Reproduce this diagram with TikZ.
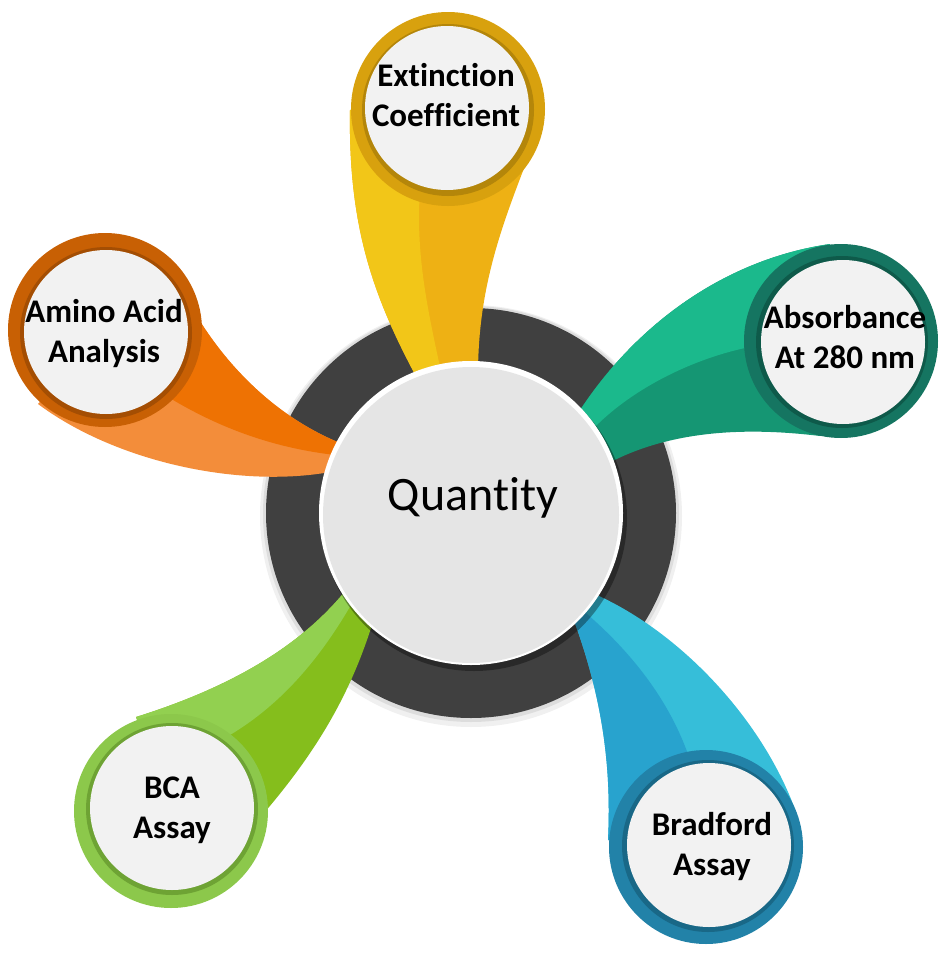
\documentclass[tikz,border=0pt]{standalone}
\usepackage{fontspec}
\setmainfont{Carlito}[RawFeature={-liga;-clig;-calt;-dlig}]
\usepackage{tikz}

\definecolor{darkring}{HTML}{404040}
\definecolor{coregray}{HTML}{E5E5E5}
\definecolor{discgray}{HTML}{F2F2F2}
\definecolor{yelA}{HTML}{F2C618}
\definecolor{yelB}{HTML}{EEB114}
\definecolor{goldring}{HTML}{D8A10E}
\definecolor{goldshade}{HTML}{B4860A}
\definecolor{oraA}{HTML}{EE7203}
\definecolor{oraB}{HTML}{F38D3A}
\definecolor{oraring}{HTML}{C86004}
\definecolor{orashade}{HTML}{A44E03}
\definecolor{tealA}{HTML}{1BB98C}
\definecolor{tealB}{HTML}{159673}
\definecolor{tealring}{HTML}{157561}
\definecolor{tealshade}{HTML}{0E5A4A}
\definecolor{bluA}{HTML}{36BED9}
\definecolor{bluB}{HTML}{28A3CE}
\definecolor{bluring}{HTML}{2282A8}
\definecolor{blushade}{HTML}{196887}
\definecolor{grnA}{HTML}{92D050}
\definecolor{grnB}{HTML}{85BE1C}
\definecolor{grnring}{HTML}{8CC84B}
\definecolor{grnshade}{HTML}{6EA334}

\begin{document}
\begin{tikzpicture}[x=1pt,y=-1pt,
    ring/.style={circle,inner sep=0pt,minimum size=194pt},
    shade/.style={circle,inner sep=0pt,minimum size=172pt},
    disc/.style={circle,fill=discgray,inner sep=0pt,minimum size=164pt},
    lbl/.style={font=\bfseries\fontsize{33}{40}\selectfont,align=center,text=black}]
    \useasboundingbox (0,0) rectangle (949,953);
    % Soft shadow and the dark ring
    \fill[black,opacity=0.06] (471,516) circle (211pt);
    \fill[black,opacity=0.08] (471,514) circle (208pt);
    \fill[darkring] (471,513) circle (205pt);
    % Yellow tail
    \fill[yelB] (350,110) .. controls (348,230) and (375,300) .. (418,380)
        -- (478,375) .. controls (478,290) and (500,230) .. (528,158) -- (447,108) -- cycle;
    \fill[yelA] (350,110) .. controls (348,230) and (375,300) .. (418,380)
        -- (445,390) .. controls (430,320) and (415,260) .. (420,190) -- (400,100) -- cycle;
    % Orange tail
    \fill[oraB] (38,404) .. controls (120,465) and (250,490) .. (340,470)
        -- (345,445) .. controls (280,420) and (230,370) .. (198,318) -- (105,330) -- cycle;
    \fill[oraA] (160,392) .. controls (220,430) and (280,450) .. (345,456)
        -- (345,445) .. controls (280,420) and (230,370) .. (198,318) -- (120,340) -- cycle;
    % Teal tail
    \fill[tealB] (830,244) .. controls (720,260) and (630,330) .. (575,418)
        -- (605,465) .. controls (660,435) and (730,425) .. (820,436) -- (841,341) -- cycle;
    \fill[tealA] (830,244) .. controls (720,260) and (630,330) .. (575,418)
        -- (592,430) .. controls (630,390) and (690,360) .. (745,348) -- (841,341) -- cycle;
    % Blue tail
    \fill[bluA] (590,592) .. controls (680,630) and (765,722) .. (797,815)
        -- (706,847) -- (608,840) .. controls (612,760) and (600,690) .. (572,615) -- cycle;
    \fill[bluB] (580,608) .. controls (630,650) and (670,700) .. (690,760)
        -- (706,847) -- (608,840) .. controls (612,760) and (600,690) .. (572,615) -- cycle;
    % Green tail
    \fill[grnB] (350,585) .. controls (300,650) and (222,690) .. (136,717)
        -- (171,811) -- (258,820) .. controls (310,760) and (350,700) .. (375,615) -- cycle;
    \fill[grnA] (350,585) .. controls (300,650) and (222,690) .. (136,717)
        -- (171,811) -- (230,735) .. controls (280,705) and (320,660) .. (355,598) -- cycle;
    % Centre disc
    \fill[black,opacity=0.35] (474,518) circle (153pt);
    \fill[white] (471,513) circle (152pt);
    \node[circle,fill=coregray,inner sep=0pt,minimum size=296pt] (core) at (471,515) {};
    \node[anchor=base,font=\fontsize{48}{58}\selectfont] (quantity) at (473,510) {Quantity};
    % Extinction coefficient
    \node[ring,fill=goldring] (extinction-ring) at (448,109) {};
    \node[shade,fill=goldshade] at (448,110) {};
    \node[disc] (extinction) at (447,108) {};
    \node[lbl] (extinction-text) at (446,95) {Extinction\\Coefficient};
    % Amino acid analysis
    \node[ring,fill=oraring] (amino-ring) at (105,330) {};
    \node[shade,fill=orashade] at (106,333) {};
    \node[disc] (amino) at (106,332) {};
    \node[lbl] (amino-text) at (104,334) {Amino Acid\\Analysis};
    % Absorbance
    \node[ring,fill=tealring] (absorb-ring) at (841,341) {};
    \node[shade,fill=tealshade] at (842,342) {};
    \node[disc] (absorb) at (843,342) {};
    \node[lbl] (absorb-text) at (845,337) {Absorbance\\At 280 nm};
    % BCA assay
    \node[ring,fill=grnring] (bca-ring) at (171,811) {};
    \node[shade,fill=grnshade] at (172,809) {};
    \node[disc] (bca) at (172,808) {};
    \node[lbl] (bca-text) at (172,810) {BCA\\Assay};
    % Bradford assay
    \node[ring,fill=bluring] (bradford-ring) at (706,847) {};
    \node[shade,fill=blushade] at (708,846) {};
    \node[disc] (bradford) at (709,845) {};
    \node[lbl] (bradford-text) at (712,847) {Bradford\\Assay};
\end{tikzpicture}
\end{document}
